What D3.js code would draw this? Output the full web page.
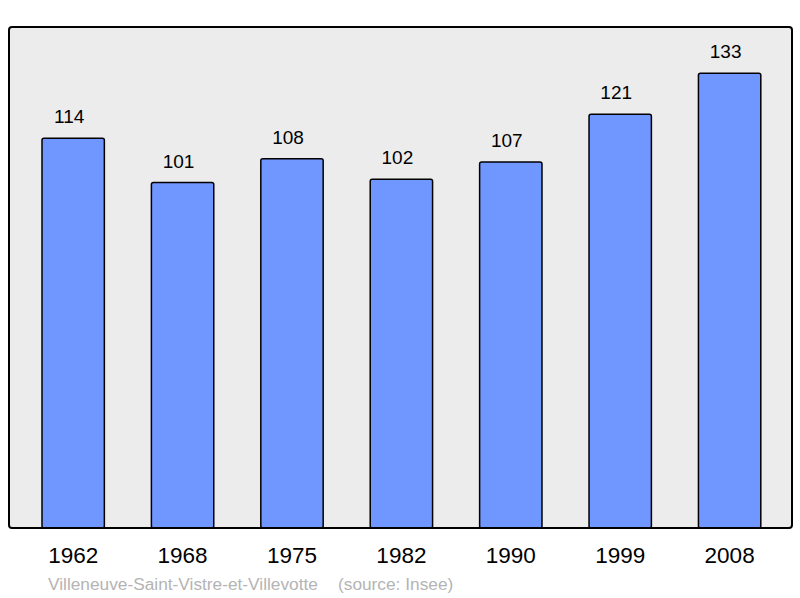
<!DOCTYPE html>
<html>
<head>
<meta charset="utf-8">
<title>Population</title>
<script src="https://d3js.org/d3.v7.min.js"></script>
<style>
  body { margin: 0; background: #fff; }
  text { font-family: "Liberation Sans", Arial, sans-serif; }
</style>
</head>
<body>
<div id="chart"></div>
<script>
"use strict"

// donnees
var annees = ["1962", "1968", "1975", "1982", "1990", "1999", "2008"];
var population = [114, 101, 108, 102, 107, 121, 133];
var titre = "Villeneuve-Saint-Vistre-et-Villevotte";
var source = "(source: Insee)";

var largeurSVG = 800, hauteurSVG = 598;
var cadre = {left: 9, top: 27, right: 792, bottom: 528};

var svg = d3.select('#chart')
  .append('svg')
  .attr('width', largeurSVG)
  .attr('height', hauteurSVG);

// fond gris
svg.append('rect')
  .attr('x', cadre.left)
  .attr('y', cadre.top)
  .attr('width', cadre.right - cadre.left)
  .attr('height', cadre.bottom - cadre.top)
  .attr('rx', 3)
  .attr('fill', '#ececec')
  .attr('stroke', 'none');

var x = d3.scaleBand()
  .domain(annees)
  .range([42, 760.8])
  .paddingInner(0.43)
  .paddingOuter(0);

var y = d3.scaleLinear()
  .domain([0, 146.5])
  .range([cadre.bottom, cadre.top]);

var donnees = annees.map((a, i) => ({annee: a, valeur: population[i]}));

svg.selectAll('rect.barre')
  .data(donnees)
  .enter()
  .append('rect')
  .attr('class', 'barre')
  .attr('x', d => x(d.annee))
  .attr('y', d => y(d.valeur))
  .attr('width', x.bandwidth())
  .attr('height', d => y(0) - y(d.valeur))
  .attr('rx', 2)
  .attr('fill', '#7096ff')
  .attr('stroke', '#000')
  .attr('stroke-width', 1.5);

// cadre par dessus
svg.append('rect')
  .attr('x', cadre.left)
  .attr('y', cadre.top)
  .attr('width', cadre.right - cadre.left)
  .attr('height', cadre.bottom - cadre.top)
  .attr('rx', 3)
  .attr('fill', 'none')
  .attr('stroke', '#000')
  .attr('stroke-width', 2);

// valeurs au dessus des barres
svg.selectAll('text.valeur')
  .data(donnees)
  .enter()
  .append('text')
  .attr('class', 'valeur')
  .attr('x', d => x(d.annee) + x.bandwidth() / 2 - 4)
  .attr('y', d => y(d.valeur) - 15)
  .attr('text-anchor', 'middle')
  .attr('font-size', 19)
  .attr('fill', '#000')
  .text(d => d.valeur);

// annees (axe du bas)
var axe = svg.append('g')
  .attr('transform', 'translate(0,' + cadre.bottom + ')')
  .call(d3.axisBottom(x).tickSize(0).tickPadding(19));
axe.select('.domain').remove();
axe.selectAll('text')
  .attr('font-size', 22.5)
  .attr('font-family', '"Liberation Sans", Arial, sans-serif')
  .attr('fill', '#000');

// titre et source
svg.append('text')
  .attr('x', 48)
  .attr('y', 590)
  .attr('font-size', 17.3)
  .attr('fill', '#b4b4b4')
  .text(titre);

svg.append('text')
  .attr('x', 338)
  .attr('y', 590)
  .attr('font-size', 17.3)
  .attr('fill', '#b4b4b4')
  .text(source);
</script>
</body>
</html>
